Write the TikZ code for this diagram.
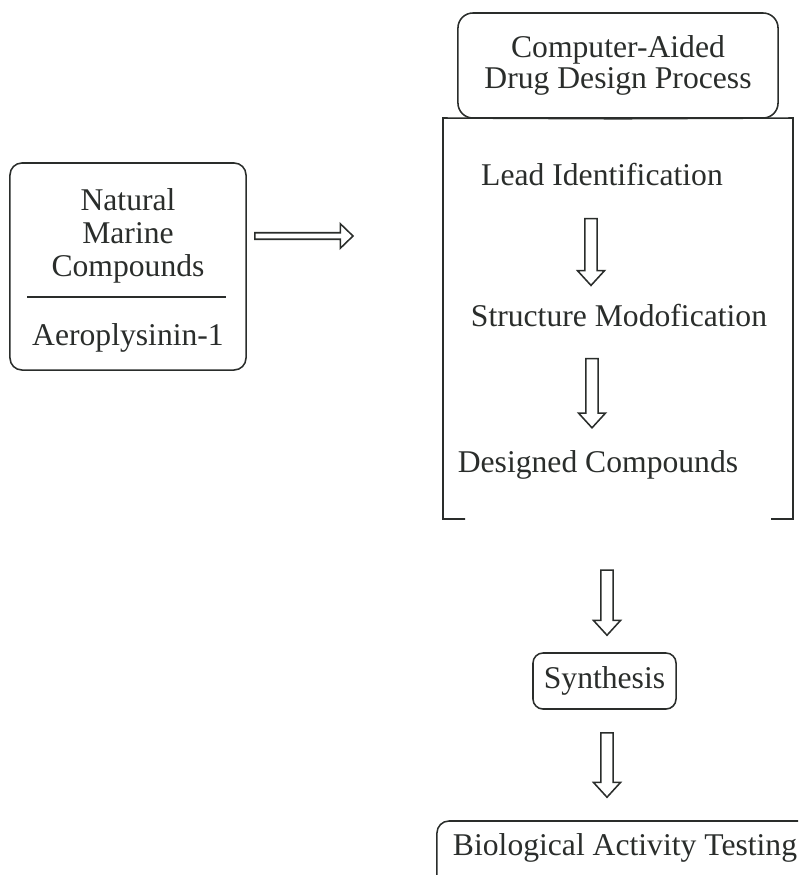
\documentclass[tikz,border=0pt]{standalone}
\usepackage{fontspec}
\setmainfont{Liberation Serif}
\usetikzlibrary{calc,positioning}
\definecolor{ink}{HTML}{2A2D2B}

\tikzset{
  box/.style={draw=ink, line width=1.1pt, rounded corners=0.3cm, inner sep=0pt,
    text=ink, font=\fontsize{22.5}{21.5}\selectfont, align=center},
  txt/.style={text=ink, font=\fontsize{22.5}{23.5}\selectfont, align=center, inner sep=0pt},
  rim/.style={draw=ink, line width=1.1pt},
}

% hollow arrow downwards: #1 top of shaft, #2 tip
\newcommand{\fatdown}[2]{%
  \draw[rim, line join=miter] let \p1=(#1), \p2=(#2) in
    (\x1-4.4pt,\y1) -- (\x1-4.4pt,\y2+10.5pt) -- (\x1-9.6pt,\y2+10.5pt) -- (\x1,\y2)
    -- (\x1+9.6pt,\y2+10.5pt) -- (\x1+4.4pt,\y2+10.5pt) -- (\x1+4.4pt,\y1) -- cycle;}
% hollow arrow to the right: #1 tail, #2 tip
\newcommand{\fatright}[2]{%
  \draw[rim, line join=miter] let \p1=(#1), \p2=(#2) in
    (\x1,\y1+2.3pt) -- (\x2-9pt,\y1+2.3pt) -- (\x2-9pt,\y1+8.7pt) -- (\x2,\y1)
    -- (\x2-9pt,\y1-8.7pt) -- (\x2-9pt,\y1-2.3pt) -- (\x1,\y1-2.3pt) -- cycle;}

\begin{document}
\begin{tikzpicture}[x=0.025cm, y=-0.025cm]
  \useasboundingbox (0,0) rectangle (798,875);
  \clip (0,0) rectangle (798,875);

  % source compounds
  \node[box, minimum width=5.9cm, minimum height=5.175cm] (nat) at (128,266.5) {};
  \node[txt] (natname) at (128,236) {Natural\\Marine\\Compounds};
  \node[txt] (aero) at (128,338) {Aeroplysinin-1};
  \draw[rim] (27,297) -- (226,297);

  % CADD frame
  \node[box, minimum width=8cm, minimum height=2.625cm, rounded corners=0.375cm] (cadd) at (618,65.5)
    {Computer-Aided\\Drug Design Process};
  \draw[rim] (465,519) -- (443,519) -- (443,118) -- (cadd.south) -- (793,118) -- (793,519) -- (771,519);
  \node[txt] (lead) at (602,175) {Lead Identification};
  \node[txt] (struct) at (619,316) {Structure Modofication};
  \node[txt] (designed) at (598,464.5) {Designed Compounds};

  % after the design
  \node[box, minimum width=3.575cm, minimum height=1.4cm, rounded corners=0.25cm] (syn) at (604.5,681) {Synthesis};
  \node[box, minimum width=10.1cm, minimum height=2.5cm] (biobox) at (639,871) {};
  \node[txt] (bio) at (625,847.5) {Biological Activity Testing};

  % Flèches
  \coordinate (htip) at (353,236);
  \fatright{$(nat.east |- natname.center)+(8,0)$}{htip};
  \fatdown{$(lead.south)+(-11,32)$}{$(struct.north)+(-28,-19)$};
  \fatdown{$(struct.south)+(-27,31)$}{$(designed.north)+(-6,-22)$};
  \fatdown{$(designed.south)+(9,91)$}{$(syn.north)+(2.5,-17)$};
  \fatdown{$(syn.south)+(2.5,23)$}{$(biobox.north)+(-32,-23)$};
\end{tikzpicture}
\end{document}
